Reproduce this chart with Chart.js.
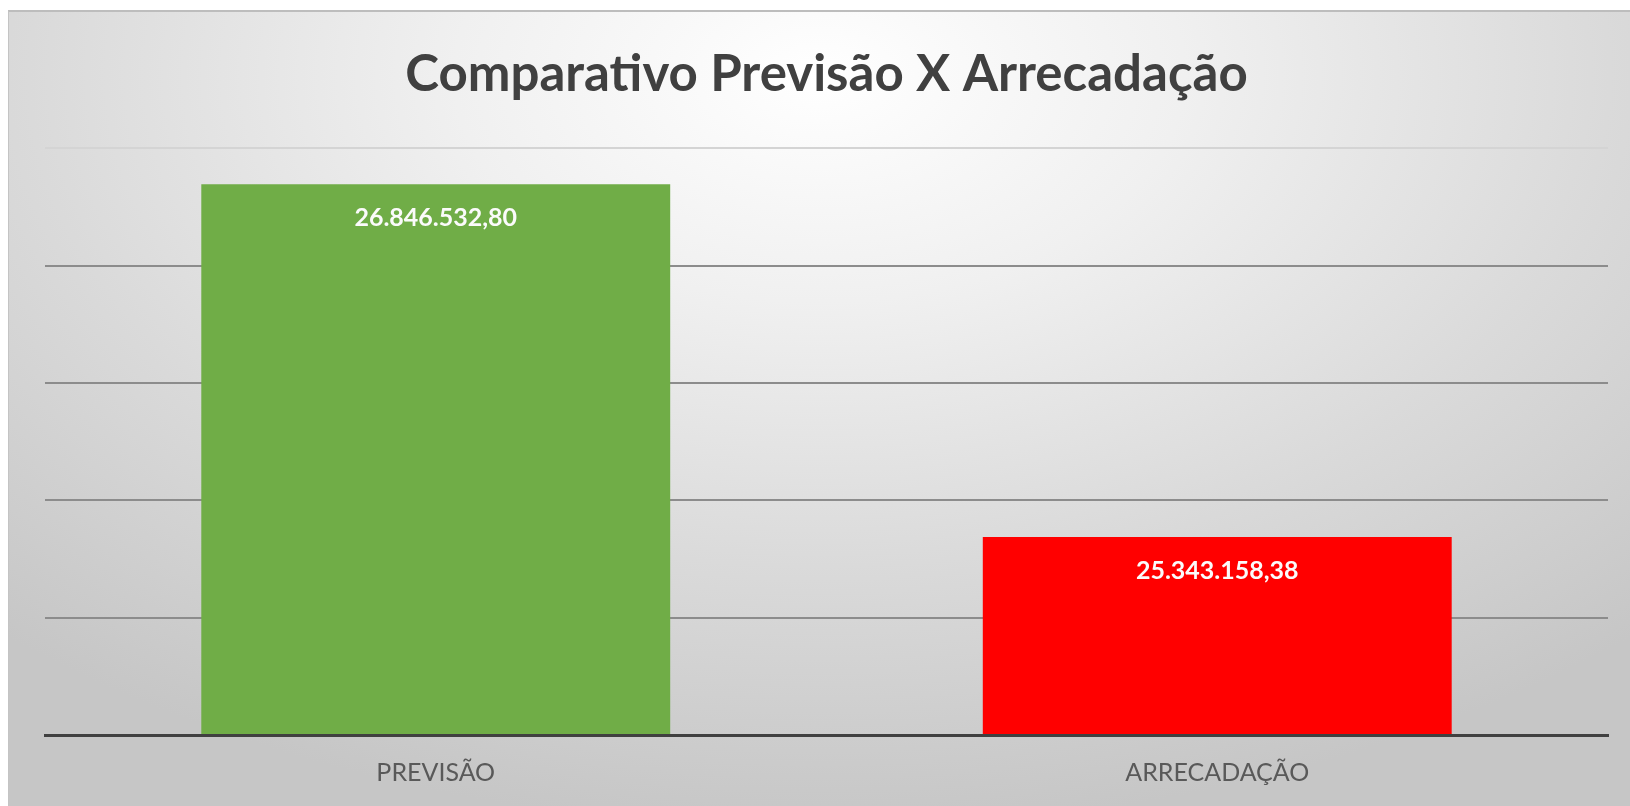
<!DOCTYPE html>
<html>
<head>
<meta charset="utf-8">
<script src="https://cdn.jsdelivr.net/npm/chart.js@4"></script>
<style>
  html, body { margin: 0; padding: 0; background: #ffffff; overflow: hidden; }
  #frame {
    position: absolute; left: 8px; top: 10px; width: 1622px; height: 796px;
    box-sizing: border-box;
    border-top: 2px solid #bdbdbd; border-left: 1px solid #c4c4c4;
    background: radial-gradient(ellipse 75% 95% at 50% 8%, #ffffff 0%, #f0f0f0 30%, #dadada 65%, #c6c6c6 100%);
  }
  #chart { display: block; }
</style>
</head>
<body>
<div id="frame"><canvas id="chart"></canvas></div>
<script>
const categories = ["PREVISÃO", "ARRECADAÇÃO"];
const values = [26846532.80, 25343158.38];
const barColors = ["#70AD47", "#FF0000"];
const axisMin = 24500000;
const axisMax = 27000000;
const axisStep = 500000;

// 26846532.8 -> "26.846.532,80"
function formatBR(v) {
  const parts = v.toFixed(2).split(".");
  const intPart = parts[0].replace(/\B(?=(\d{3})+(?!\d))/g, ".");
  return intPart + "," + parts[1];
}

const barLabels = {
  id: "barLabels",
  afterDatasetsDraw(chart) {
    const ctx = chart.ctx;
    const meta = chart.getDatasetMeta(0);
    ctx.save();
    ctx.font = "bold 25px Lato";
    ctx.fillStyle = "#fbfbfb";
    ctx.textAlign = "center";
    ctx.textBaseline = "middle";
    meta.data.forEach((bar, i) => {
      ctx.fillText(formatBR(values[i]), bar.x, bar.y + 34);
    });
    ctx.restore();
  },
};

const ctx = document.getElementById("chart").getContext("2d");

let chart = new Chart(ctx, {
  type: "bar",
  data: {
    labels: categories,
    datasets: [
      {
        data: values,
        backgroundColor: barColors,
        borderWidth: 0,
        barPercentage: 0.6,
        categoryPercentage: 1.0,
      },
    ],
  },
  options: {
    responsive: true,
    maintainAspectRatio: false,
    animation: false,
    layout: {
      padding: { left: 36, right: 22, top: 0, bottom: -5 },
    },
    scales: {
      x: {
        grid: { display: false, drawTicks: false },
        border: { display: true, color: "#404040", width: 3, z: 1 },
        ticks: {
          padding: 28,
          color: "#595959",
          font: { family: "Lato", size: 25, lineHeight: 0.8 },
        },
      },
      y: {
        min: axisMin,
        max: axisMax,
        ticks: { display: false, stepSize: axisStep },
        border: { display: false },
        grid: {
          drawTicks: false,
          lineWidth: 2,
          color: (c) => {
            if (c.index === 0) return "rgba(0,0,0,0)";
            if (c.tick && c.tick.value === axisMax) return "#d4d4d4";
            return "#8c8c8c";
          },
        },
      },
    },
    plugins: {
      legend: { display: false },
      tooltip: { enabled: false },
      title: {
        display: true,
        text: "Comparativo Previsão X Arrecadação",
        color: "#404040",
        font: { family: "Lato", size: 51, weight: "bold" },
        padding: { top: 32, bottom: 43 },
      },
    },
  },
  plugins: [barLabels],
});
</script>
</body>
</html>
